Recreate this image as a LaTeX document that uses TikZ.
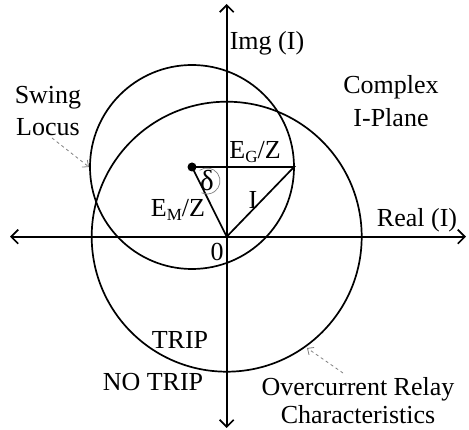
\documentclass[tikz,border=0pt]{standalone}
\usepackage{fontspec}
\setmainfont{Liberation Serif}
\usetikzlibrary{arrows.meta}
\newcommand\sbs[1]{\raisebox{-0.3ex}{\fontsize{17}{17}\selectfont #1}}
\begin{document}
\begin{tikzpicture}[x=1pt,y=-1pt,
  lbl/.style={inner sep=0pt, font=\fontsize{26}{32}\selectfont},
  axis/.style={line width=1.7pt, {Straight Barb[length=7pt,width=14pt,line width=1.7pt]}-{Straight Barb[length=7pt,width=14pt,line width=1.7pt]}},
  curve/.style={line width=1.7pt},
  pointer/.style={gray, dashed, line width=0.8pt, -{Straight Barb[length=5pt,width=9pt,line width=0.8pt]}}]
\useasboundingbox (0,0) rectangle (469,430);
% axes
\coordinate (O) at (226.7,236.7);
\coordinate (xl) at (10,236.7);
\coordinate (xr) at (466,236.7);
\coordinate (yt) at (226.7,4);
\coordinate (yb) at (226.7,428);
\draw[axis] (xl) -- (xr);
\draw[axis] (yb) -- (yt);
% circles
\coordinate (C) at (192,167);
\draw[curve] (C) circle[radius=102];
\draw[curve] (O) circle[radius=135];
% triangle
\coordinate (P) at (294,167);
\draw[curve] (C) -- (P) -- (O) -- cycle;
\fill (C) circle[radius=4.5];
% delta
\node[lbl, font=\fontsize{29}{32}\selectfont] (delta) at (207,181) {δ};
\draw[gray, line width=0.7pt] (delta.center) ++(-125:13) arc[start angle=-125, end angle=115, radius=13];
% labels
\node[lbl] (img) at (267,43) {Img (I)};
\node[lbl, align=center, font=\fontsize{26}{33}\selectfont] (cplx) at (391,101) {Complex\\I-Plane};
\node[lbl, align=center, font=\fontsize{26}{32}\selectfont] (swing) at (48,111) {Swing\\Locus};
\node[lbl] (eg) at (255,152) {E\sbs{G}/Z};
\node[lbl] (em) at (178,210) {E\sbs{M}/Z};
\node[lbl] (i) at (253,200) {I};
\node[lbl] (real) at (417,220) {Real (I)};
\node[lbl] (zero) at (217,252) {0};
\node[lbl] (trip) at (180,340) {TRIP};
\node[lbl] (notrip) at (153,382) {NO TRIP};
\node[lbl, align=center, font=\fontsize{26}{28}\selectfont] (ocr) at (358,401) {Overcurrent Relay\\Characteristics};
% pointers
\coordinate (s1) at (52,138);
\coordinate (s2) at (89,167);
\coordinate (o1) at (343,373);
\coordinate (o2) at (307,348);
\draw[pointer] (s1) -- (s2);
\draw[pointer] (o1) -- (o2);
\end{tikzpicture}
\end{document}
